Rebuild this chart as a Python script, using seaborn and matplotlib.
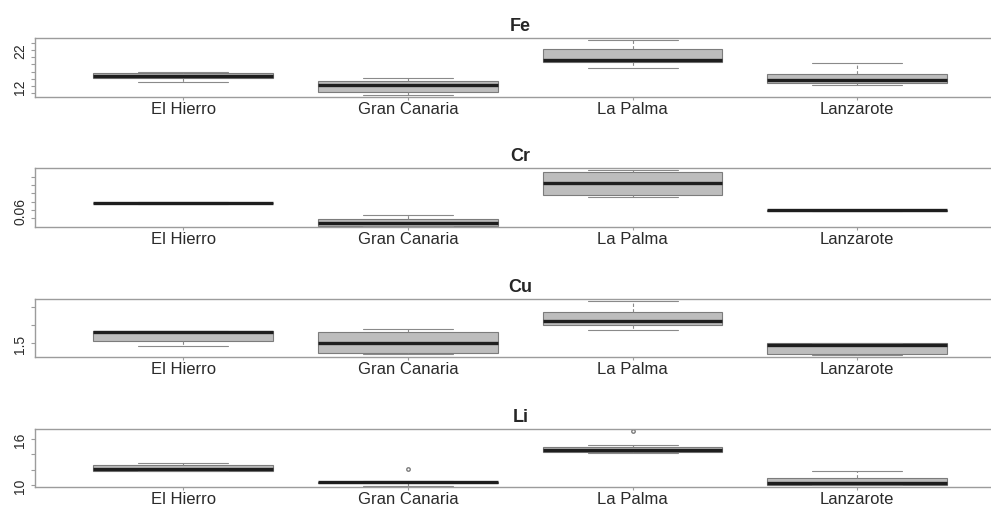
import numpy as np
import pandas as pd
import matplotlib
matplotlib.use("Agg")
import matplotlib.pyplot as plt
import seaborn as sns

# islas y lecturas por elemento
islands = ["El Hierro", "Gran Canaria", "La Palma", "Lanzarote"]

fe_vals = [
    [13.0, 14.15, 14.85, 15.6, 15.9],
    [9.5, 10.25, 12.3, 13.3, 14.15],
    [16.9, 18.6, 19.3, 22.3, 24.7],
    [12.35, 12.75, 13.65, 15.35, 18.4],
]
cr_vals = [
    [0.0678, 0.0680, 0.0685, 0.0690, 0.0692],
    [0.0405, 0.0411, 0.0443, 0.0492, 0.0540],
    [0.0753, 0.0781, 0.0925, 0.1054, 0.1078],
    [0.0590, 0.0592, 0.0596, 0.0600, 0.0602],
]
cu_vals = [
    [1.484, 1.514, 1.562, 1.566, 1.569],
    [1.443, 1.447, 1.500, 1.560, 1.580],
    [1.573, 1.600, 1.624, 1.673, 1.733],
    [1.436, 1.442, 1.492, 1.500, 1.503],
]
li_vals = [
    [11.83, 11.87, 12.13, 12.61, 12.87],
    [9.92, 9.92, 10.2, 10.2, 10.35, 10.45, 10.45, 10.55, 12.09],
    [14.17, 14.17, 14.34, 14.34, 14.6, 14.92, 14.92, 15.26, 17.08],
    [9.94, 10.0, 10.26, 10.92, 11.79],
]

fe_ticks = [10, 12, 14, 16, 18, 20, 22, 24]
fe_labels = ["", "12", "", "", "", "", "22", ""]
cr_ticks = [0.05, 0.06, 0.07, 0.08, 0.09, 0.10]
cr_labels = ["", "0.06", "", "", "", ""]
cu_ticks = [1.5, 1.6, 1.7]
cu_labels = ["1.5", "", ""]
li_ticks = [10, 12, 14, 16]
li_labels = ["10", "", "", "16"]

sns.set_style("white")
plt.rcParams["font.family"] = ["Liberation Sans", "DejaVu Sans"]

W, H = 991, 506
fig = plt.figure(figsize=(W / 100, H / 100), dpi=100)

# (titulo, datos, ylim, ticks, etiquetas, whis, top px, bottom px)
panels = [
    ("Fe", fe_vals, (9.03, 25.25), fe_ticks, fe_labels, (0, 100), 39.3, 97.7),
    ("Cr", cr_vals, (0.0399, 0.1102), cr_ticks, cr_labels, (0, 100), 169.3, 227.7),
    ("Cu", cu_vals, (1.4235, 1.742), cu_ticks, cu_labels, (0, 100), 300.0, 358.3),
    ("Li", li_vals, (9.78, 17.3), li_ticks, li_labels, 1.5, 430.0, 487.7),
]

frame_col = "#9c9c9c"
left_px, right_px = 35.0, 1005.5

for title, vals, ylim, ticks, labels, whis, top, bottom in panels:
    df = pd.DataFrame({
        "island": np.repeat(islands, [len(v) for v in vals]),
        "value": np.concatenate(vals),
    })
    ax = fig.add_axes([left_px / W, 1 - bottom / H, (right_px - left_px) / W, (bottom - top) / H])
    sns.boxplot(
        data=df, x="island", y="value", order=islands, ax=ax,
        color="#bdbdbd", linecolor="#7c7c7c", linewidth=0.8,
        width=0.8, whis=whis, saturation=1, fliersize=2.5,
        medianprops=dict(color="#1e1e1e", linewidth=2.4, solid_capstyle="butt"),
        whiskerprops=dict(color="#8a8a8a", linewidth=0.8, linestyle=(0, (3, 2))),
        capprops=dict(color="#8a8a8a", linewidth=0.8),
        flierprops=dict(marker="o", markerfacecolor="none", markeredgecolor="#7c7c7c"),
    )
    ax.set_xlim(-0.66, 3.66)
    ax.set_ylim(*ylim)
    ax.set_xlabel("")
    ax.set_ylabel("")
    ax.set_yticks(ticks)
    ax.set_yticklabels(labels)
    for lab in ax.get_yticklabels():
        lab.set_rotation(90)
        lab.set_va("center")
    ax.tick_params(axis="y", left=True, length=3, width=0.8, color=frame_col,
                   pad=2.5, labelsize=10, labelcolor="#2a2a2a")
    ax.tick_params(axis="x", bottom=True, length=2, width=0.8, color=frame_col,
                   pad=1, labelsize=12, labelcolor="#2a2a2a")
    for sp in ax.spines.values():
        sp.set_visible(True)
        sp.set_color(frame_col)
        sp.set_linewidth(1.0)
    ax.set_title(title, fontweight="bold", fontsize=13, pad=6)

fig.savefig("out.png", dpi=100)
